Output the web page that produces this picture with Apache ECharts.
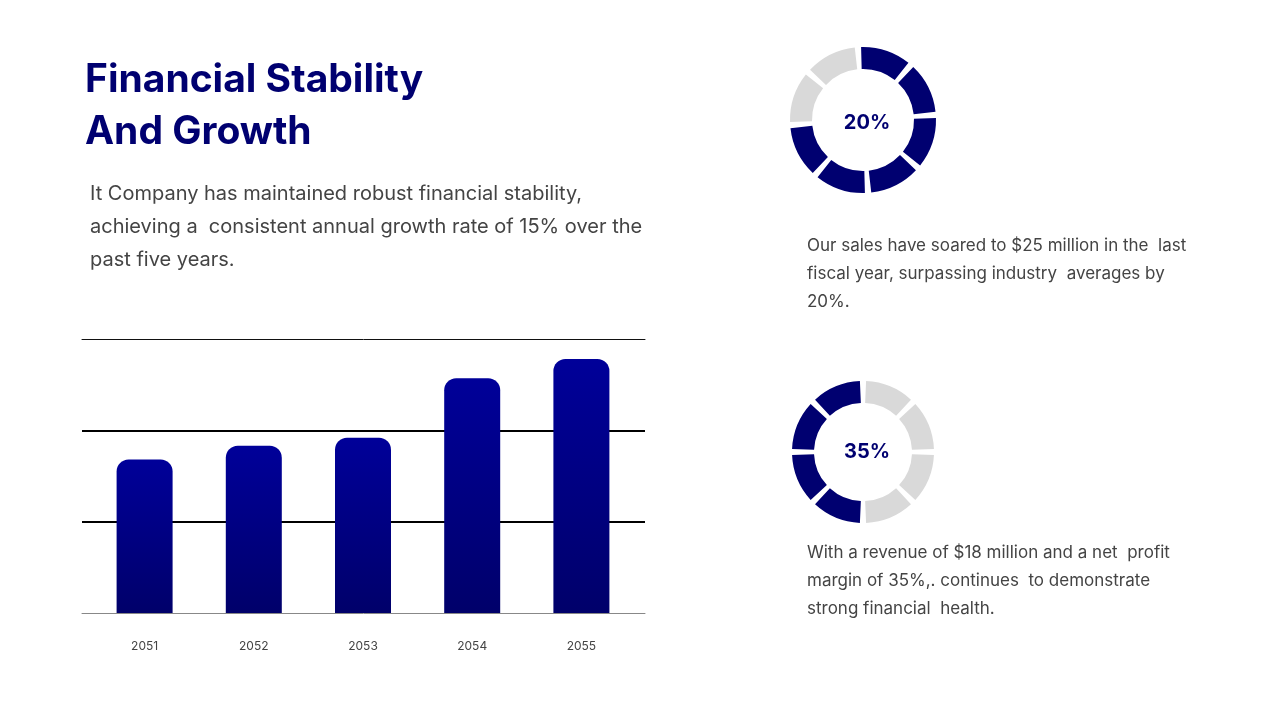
<!DOCTYPE html>
<html>
<head>
<meta charset="utf-8">
<script src="https://cdn.jsdelivr.net/npm/echarts@6/dist/echarts.min.js"></script>
<style>
  html, body { margin: 0; padding: 0; background: #fff; }
  #main { width: 1280px; height: 720px; }
</style>
</head>
<body>
<div id="main"></div>
<script>
// bar chart data
var years = ['2051', '2052', '2053', '2054', '2055']
var growth = [168, 183, 192, 257, 278]
var yTicks = [0, 100, 200, 300]

// ring segments, clockwise from the top
var ringSales = ['on', 'on', 'on', 'on', 'on', 'on', 'off', 'off']
var ringProfit = ['off', 'off', 'off', 'off', 'on', 'on', 'on', 'on']
var ringLabels = ['20%', '35%']

var NAVY = '#000070'
var GREY = '#d9d9d9'
var FONT = 'Inter'

function ringData(segs) {
  return segs.map(function (s) {
    return { value: 1, itemStyle: { color: s === 'on' ? NAVY : GREY } }
  })
}

const myChart = echarts.init(document.querySelector('#main'))

var barColor = new echarts.graphic.LinearGradient(0, 0, 0, 1, [
  { offset: 0, color: '#000099' },
  { offset: 1, color: '#00006a' }
])

option = {
  backgroundColor: '#fff',
  animation: false,
  textStyle: { fontFamily: FONT },
  grid: [
    // wide grid just for the rules
    { left: 82, width: 563, top: 339, height: 274 },
    // bars
    { left: 90, width: 546, top: 339, height: 274 }
  ],
  xAxis: [
    {
      gridIndex: 0, type: 'category', data: years, position: 'bottom',
      axisLine: { lineStyle: { color: '#888', width: 1 } },
      axisTick: { show: false }, axisLabel: { show: false }
    },
    {
      gridIndex: 0, type: 'category', data: years, position: 'top',
      axisLine: { lineStyle: { color: '#111', width: 1 } },
      axisTick: { show: false }, axisLabel: { show: false }
    },
    {
      gridIndex: 1, type: 'category', data: years,
      axisLine: { show: false }, axisTick: { show: false },
      axisLabel: { color: '#444', fontSize: 12, margin: 27, fontFamily: FONT }
    }
  ],
  yAxis: [
    {
      gridIndex: 0, type: 'value', min: yTicks[0], max: yTicks[yTicks.length - 1], interval: 100,
      axisLine: { show: false }, axisTick: { show: false }, axisLabel: { show: false },
      splitLine: { lineStyle: { color: ['transparent', '#000', '#000', 'transparent'], width: 2 } }
    },
    {
      gridIndex: 1, type: 'value', min: yTicks[0], max: yTicks[yTicks.length - 1], interval: 100,
      show: false, splitLine: { show: false }
    }
  ],
  title: [
    {
      text: 'Financial Stability\nAnd Growth',
      left: 80, top: 49,
      textStyle: { color: NAVY, fontSize: 39, fontWeight: 700, lineHeight: 52, fontFamily: FONT }
    },
    {
      text: 'It Company has maintained robust financial stability,\nachieving a  consistent annual growth rate of 15% over the\npast five years.',
      left: 85, top: 172,
      textStyle: { color: '#444', fontSize: 20, fontWeight: 400, lineHeight: 33, fontFamily: FONT }
    },
    {
      text: 'Our sales have soared to $25 million in the  last\nfiscal year, surpassing industry  averages by\n20%.',
      left: 802, top: 227,
      textStyle: { color: '#444', fontSize: 17, fontWeight: 400, lineHeight: 28, fontFamily: FONT }
    },
    {
      text: 'With a revenue of $18 million and a net  profit\nmargin of 35%,. continues  to demonstrate\nstrong financial  health.',
      left: 802, top: 534,
      textStyle: { color: '#444', fontSize: 17, fontWeight: 400, lineHeight: 28, fontFamily: FONT }
    }
  ],
  series: [
    {
      type: 'bar', xAxisIndex: 2, yAxisIndex: 1,
      data: growth, barWidth: 56,
      itemStyle: { color: barColor, borderRadius: [12, 12, 0, 0] }
    },
    {
      type: 'pie', center: [863, 120], radius: [51, 73],
      startAngle: 94, clockwise: true, padAngle: 5,
      data: ringData(ringSales), silent: true,
      label: { show: false }, labelLine: { show: false }
    },
    {
      type: 'pie', center: [863, 452], radius: [49, 71],
      startAngle: 90, clockwise: true, padAngle: 5,
      data: ringData(ringProfit), silent: true,
      label: { show: false }, labelLine: { show: false }
    }
  ],
  graphic: [
    {
      type: 'text', x: 867, y: 123,
      style: { text: ringLabels[0], fill: NAVY, font: '700 20px ' + FONT, align: 'center', verticalAlign: 'middle' }
    },
    {
      type: 'text', x: 867, y: 452,
      style: { text: ringLabels[1], fill: NAVY, font: '700 20px ' + FONT, align: 'center', verticalAlign: 'middle' }
    }
  ]
}
myChart.setOption(option)
</script>
</body>
</html>
